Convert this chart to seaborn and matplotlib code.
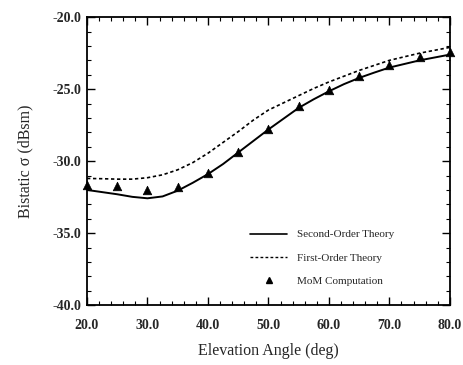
import matplotlib
matplotlib.use("Agg")
import matplotlib.pyplot as plt
import seaborn as sns
import pandas as pd
from matplotlib.ticker import MultipleLocator, FormatStrFormatter
from matplotlib.lines import Line2D

sns.set_theme(style="ticks")
plt.rcParams['font.family'] = ['Liberation Serif', 'DejaVu Serif']

angle_theory = [20, 22.5, 25, 27.5, 30, 32.5, 35, 37.5, 40, 42.5, 45, 47.5, 50,
                52.5, 55, 57.5, 60, 62.5, 65, 67.5, 70, 72.5, 75, 77.5, 80]
second_order = [-32.0, -32.15, -32.3, -32.48, -32.58, -32.45, -32.05, -31.5, -30.9,
                -30.2, -29.4, -28.6, -27.8, -27.05, -26.3, -25.7, -25.15, -24.65,
                -24.22, -23.85, -23.5, -23.25, -23.0, -22.8, -22.6]
first_order = [-31.2, -31.22, -31.25, -31.25, -31.15, -30.95, -30.6, -30.1, -29.45,
               -28.7, -27.95, -27.15, -26.45, -25.95, -25.45, -24.95, -24.5, -24.1,
               -23.7, -23.35, -23.0, -22.75, -22.5, -22.3, -22.1]
angle_mom = [20, 25, 30, 35, 40, 45, 50, 55, 60, 65, 70, 75, 80]
mom = [-31.65, -31.75, -32.0, -31.8, -30.8, -29.35, -27.8, -26.2, -25.05, -24.1,
       -23.3, -22.75, -22.4]

labels = ["Second-Order Theory", "First-Order Theory", "MoM Computation"]

df_theory = pd.DataFrame({"angle": angle_theory, "second": second_order, "first": first_order})
df_mom = pd.DataFrame({"angle": angle_mom, "mom": mom})

fig = plt.figure(figsize=(4.64, 3.65), dpi=100)
ax = fig.add_axes([0.1875, 0.164, 0.782, 0.789])

sns.lineplot(data=df_theory, x="angle", y="second", ax=ax, color="black", lw=1.4)
sns.lineplot(data=df_theory, x="angle", y="first", ax=ax, color="black", lw=1.2,
             linestyle=(0, (2, 1.6)))
sns.scatterplot(data=df_mom, x="angle", y="mom", ax=ax, marker="^", color="black",
                s=38, edgecolor="black", linewidth=0.5, clip_on=False, zorder=5)

ax.set_xlim(20, 80)
ax.set_ylim(-40, -20)
ax.xaxis.set_major_locator(MultipleLocator(10))
ax.xaxis.set_minor_locator(MultipleLocator(2))
ax.yaxis.set_major_locator(MultipleLocator(5))
ax.yaxis.set_minor_locator(MultipleLocator(1))
ax.xaxis.set_major_formatter(FormatStrFormatter("%.1f"))
ax.yaxis.set_major_formatter(FormatStrFormatter("%.1f"))
ax.tick_params(which="both", direction="in", top=True, right=True, color="black")
ax.tick_params(which="major", length=6, width=1.0, labelsize=10, pad=4)
ax.tick_params(axis="x", which="major", pad=10)
ax.tick_params(which="minor", length=3, width=0.8)
for lab in ax.get_xticklabels() + ax.get_yticklabels():
    lab.set_fontweight("bold")
for sp in ax.spines.values():
    sp.set_linewidth(1.3)
    sp.set_color("black")

ax.set_xlabel("Elevation Angle (deg)", fontsize=11.5, labelpad=8)
ax.set_ylabel("Bistatic σ (dBsm)", fontsize=11.5, labelpad=14)

handles = [Line2D([], [], color="black", lw=1.2),
           Line2D([], [], color="black", lw=1.0, linestyle=(0, (2, 1.6))),
           Line2D([], [], color="black", marker="^", linestyle="none", markersize=5)]
ax.legend(handles, labels, loc="upper left", bbox_to_anchor=(0.449, 0.262),
          borderaxespad=0, borderpad=0,
          frameon=False, fontsize=8, handlelength=3.35, handletextpad=0.9,
          labelspacing=1.22)

fig.savefig("out.png", dpi=100)
